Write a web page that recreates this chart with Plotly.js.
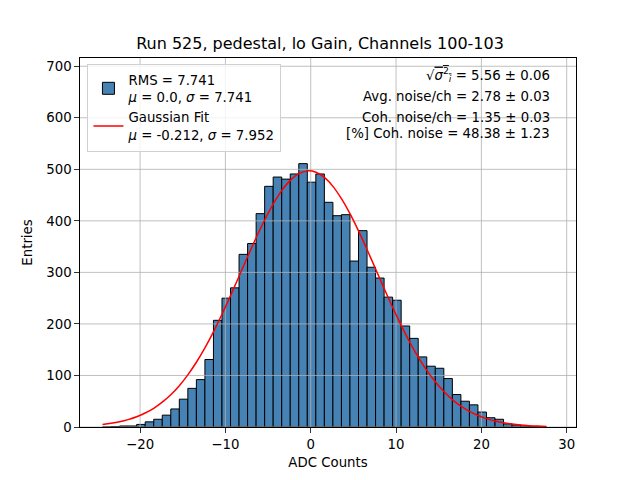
<!DOCTYPE html>
<html>
<head>
<meta charset="utf-8">
<script src="https://cdn.plot.ly/plotly-3.0.1.min.js"></script>
<style>html,body{margin:0;padding:0;background:#fff;}#chart{width:640px;height:480px;}</style>
</head>
<body>
<div id="chart"></div>
<script>
// Histogram bin centers (bin width ~1 ADC count)
const binCenters = [-23.9,-22.9,-21.9,-20.9,-19.9,-18.9,-17.9,-16.9,-15.9,-14.9,-13.9,-12.9,-11.9,-10.9,-9.9,-8.9,-7.9,-6.9,-5.9,-4.9,-3.9,-2.9,-1.9,-0.9,0.1,1.1,2.1,3.1,4.1,5.1,6.1,7.1,8.1,9.1,10.1,11.1,12.1,13.1,14.1,15.1,16.1,17.1,18.1,19.1,20.1,21.1,22.1,23.1,24.1,25.1,26.1,27.1];
const counts = [0,1,2,2,5,10,15,23,35,54,75,92,131,207,250,270,335,356,414,467,485,481,491,511,475,491,436,410,412,322,381,310,289,252,246,196,172,136,118,114,94,63,50,43,29,18,15,6,4,2,1,1];
// Gaussian fit curve
const fitX = [-24.4,-23.4,-22.4,-21.4,-20.4,-19.4,-18.4,-17.4,-16.4,-15.4,-14.4,-13.4,-12.4,-11.4,-10.4,-9.4,-8.4,-7.4,-6.4,-5.4,-4.4,-3.4,-2.4,-1.4,-0.4,0.6,1.6,2.6,3.6,4.6,5.6,6.6,7.6,8.6,9.6,10.6,11.6,12.6,13.6,14.6,15.6,16.6,17.6,18.6,19.6,20.6,21.6,22.6,23.6,24.6,25.6,26.6,27.6];
const fitY = [4.9,7.1,10.1,14.3,19.8,27.1,36.3,48.1,62.6,80.2,101.2,125.6,153.5,184.7,218.7,255.0,292.5,330.3,367.2,401.7,432.6,458.6,478.5,491.5,496.9,494.4,484.3,466.9,443.1,413.9,380.5,344.4,306.7,268.9,232.1,197.2,164.9,135.7,110.0,87.7,68.8,53.2,40.4,30.3,22.3,16.2,11.6,8.1,5.6,3.8,2.6,1.7,1.1];
// Axis ticks
const xTicks = [-20,-10,0,10,20,30];
const yTicks = [0,100,200,300,400,500,600,700];
const xRange = [-27.04, 31.09];
const yRange = [0, 716];

const legendHist = 'RMS = 7.741<br><i>μ</i> = 0.0, <i>σ</i> = 7.741';
const legendFit = 'Gaussian Fit<br><i>μ</i> = -0.212, <i>σ</i> = 7.952';
const infoLines = [
  '√<span style="text-decoration:overline"><i>σ</i><sup>2</sup><sub><i>i</i></sub></span> = 5.56 ± 0.06',
  'Avg. noise/ch = 2.78 ± 0.03',
  'Coh. noise/ch = 1.35 ± 0.03',
  '[%] Coh. noise = 48.38 ± 1.23'
];

// grid lines drawn above bars (as matplotlib does), built from tick arrays
const gx = [], gy = [];
xTicks.forEach(t => { gx.push(t, t, null); gy.push(yRange[0], yRange[1], null); });
yTicks.forEach(t => { gx.push(xRange[0], xRange[1], null); gy.push(t, t, null); });

const traces = [
  {type:'bar', x:binCenters, y:counts, width:1.0, name:legendHist,
   marker:{color:'#4682b4', line:{color:'#000000', width:1}}, hoverinfo:'x+y'},
  {type:'scatter', mode:'lines', x:gx, y:gy, showlegend:false, hoverinfo:'skip',
   line:{color:'#b0b0b0', width:0.8}},
  {type:'scatter', mode:'lines', x:fitX, y:fitY, name:legendFit, line:{color:'#ff0000', width:1.5, shape:'spline'}}
];

const yInfo = [0.955, 0.8961, 0.8401, 0.7952];
const annotations = infoLines.map((t, i) => ({
  xref:'paper', yref:'paper', x:0.952, y:yInfo[i], xanchor:'right', yanchor:'middle',
  text:t, showarrow:false, font:{size:13.3, color:'#000'}
}));

const layout = {
  width:640, height:480,
  margin:{l:80, r:64, t:57.6, b:52.8},
  paper_bgcolor:'#fff', plot_bgcolor:'#fff',
  font:{family:'DejaVu Sans, sans-serif', size:13.3, color:'#000'},
  title:{text:'Run 525, pedestal, lo Gain, Channels 100-103', font:{size:16}, x:0.5, xanchor:'center', y:0.91, yanchor:'middle'},
  bargap:0,
  showlegend:true,
  legend:{x:0.015, y:0.985, xanchor:'left', yanchor:'top', bgcolor:'rgba(255,255,255,0.8)',
          bordercolor:'#d0d0d0', borderwidth:1, font:{size:13.3}, tracegroupgap:4},
  xaxis:{range:xRange, tickvals:xTicks, ticktext:xTicks.map(v => v < 0 ? '−' + Math.abs(v) : String(v)),
         showgrid:false, zeroline:false, showline:true, mirror:true, linecolor:'#000', linewidth:1,
         ticks:'outside', ticklen:4.7, tickwidth:0.8, tickcolor:'#000', tickfont:{size:13.3},
         title:{text:'ADC Counts', standoff:7, font:{size:13.3}}},
  yaxis:{range:yRange, tickvals:yTicks, showgrid:false, zeroline:false, showline:true, mirror:true,
         linecolor:'#000', linewidth:1, ticks:'outside', ticklen:4.7, tickwidth:0.8, tickcolor:'#000', tickfont:{size:13.3},
         title:{text:'Entries', standoff:10, font:{size:13.3}}},
  annotations:annotations
};

Plotly.newPlot('chart', traces, layout, {displayModeBar:false, staticPlot:true});
</script>
</body>
</html>
